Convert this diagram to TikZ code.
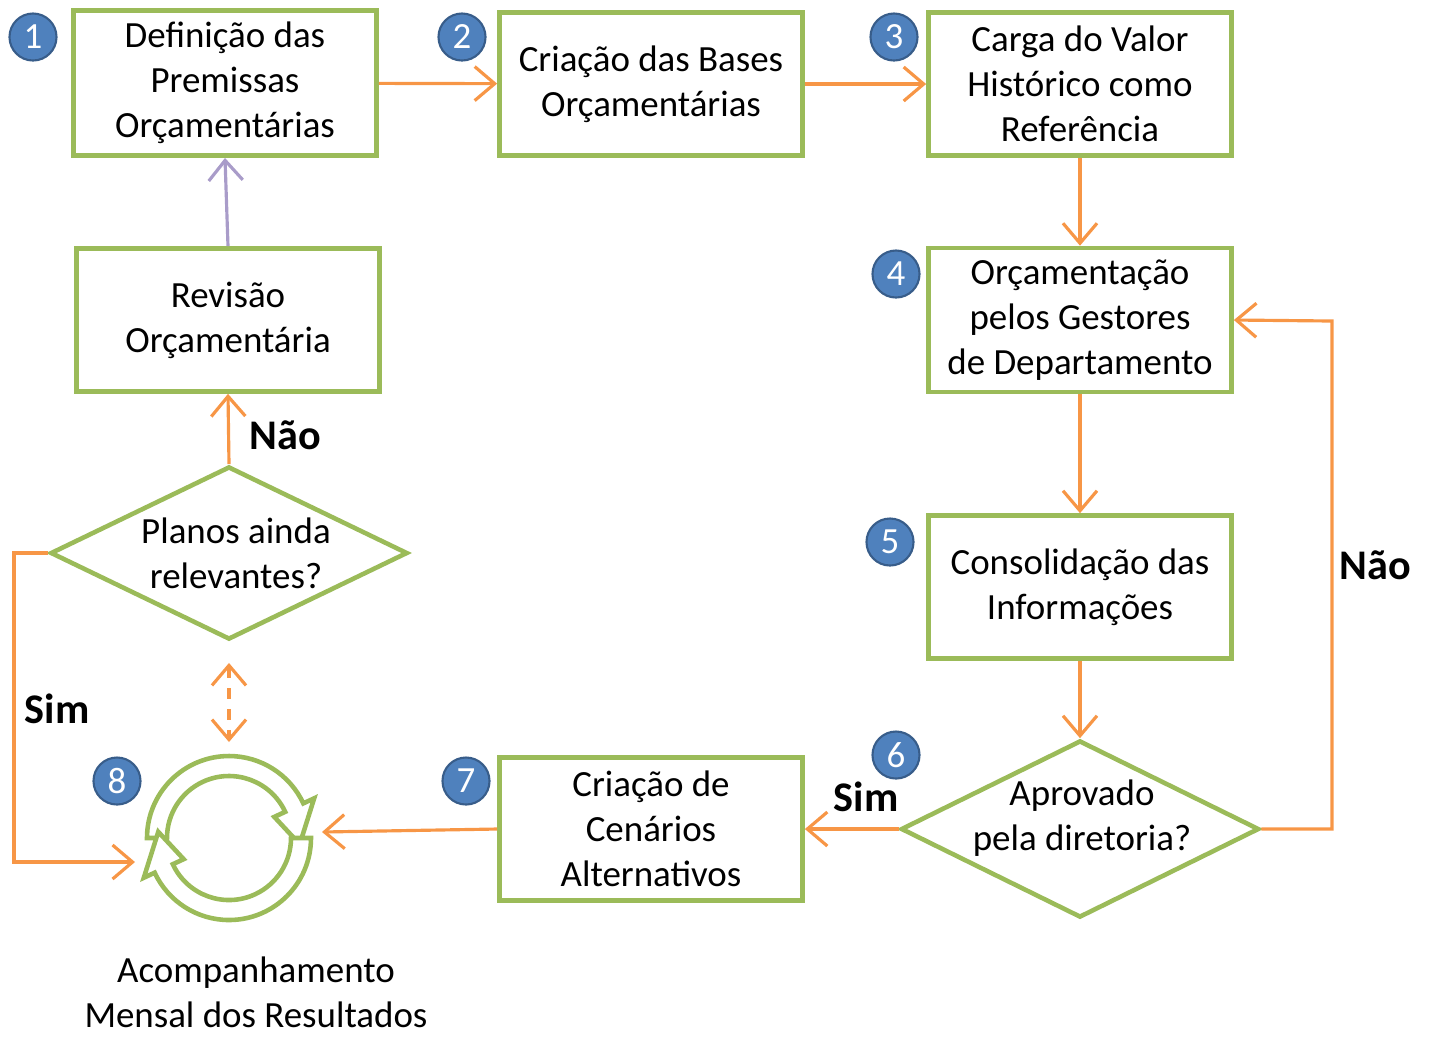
\documentclass[tikz,border=0pt]{standalone}
\usepackage{fontspec}
\setmainfont{Carlito}
\usetikzlibrary{arrows.meta,shapes.geometric}
\definecolor{boxgreen}{HTML}{9BBB59}
\definecolor{flow}{HTML}{F79646}
\definecolor{badge}{HTML}{4F81BD}
\definecolor{badgeline}{HTML}{385D8A}
\definecolor{back}{HTML}{A99CC9}

\tikzset{
    stage/.style={draw=boxgreen, line width=1.3pt, fill=white, minimum width=3.03cm, minimum height=1.43cm,
        align=center, font=\fontsize{10.5}{12.8}\selectfont},
    choice/.style={draw=boxgreen, line width=1.3pt, diamond, inner sep=0pt},
    num/.style={circle, fill=badge, draw=badgeline, line width=0.6pt, minimum size=0.47cm, inner sep=0pt,
        text=white, font=\fontsize{10.5}{12}\selectfont},
    flowarrow/.style={draw=flow, line width=0.9pt, -{Straight Barb[length=2mm,width=3.4mm]}},
    answer/.style={font=\fontsize{12}{14}\selectfont\bfseries},
    ring/.style={draw=boxgreen, line width=1.3pt, fill=white}
}

\begin{document}
\begin{tikzpicture}[x=0.01cm, y=-0.01cm]
    \useasboundingbox (0,0) rectangle (1436,1059);

    \node[stage] at (225, 83) (s1) {Definição das\\Premissas\\Orçamentárias};
    \node[stage] at (651, 84) (s2) {Criação das Bases\\Orçamentárias};
    \node[stage] at (1080, 84) (s3) {Carga do Valor\\Histórico como\\Referência};
    \node[stage] at (1080, 320) (s4) {Orçamentação\\pelos Gestores\\de Departamento};
    \node[stage] at (1080, 587) (s5) {Consolidação das\\Informações};
    \node[stage] at (651, 829) (s7) {Criação de\\Cenários\\Alternativos};
    \node[stage] at (228, 320) (rev) {Revisão\\Orçamentária};

    \node[choice, minimum width=3.58cm, minimum height=1.77cm] at (1080, 829) (d6) {};
    \node[align=center, font=\fontsize{10.5}{12.8}\selectfont] at (1082, 818) (d6t) {Aprovado\\pela diretoria?};
    \node[choice, minimum width=3.57cm, minimum height=1.73cm] at (229, 553) (dp) {};
    \node[align=center, font=\fontsize{10.5}{12.8}\selectfont] at (236, 553) (dpt) {Planos ainda\\relevantes?};

    % cycle icon
    \begin{scope}[shift={(229,838)}]
        \path[ring] (180:82) arc (180:335:82) -- (335:94) -- (5:71) -- (335:50) -- (335:62)
            arc (335:180:62) -- cycle;
        \path[ring] (0:82) arc (0:155:82) -- (155:94) -- (185:71) -- (155:50) -- (155:62)
            arc (155:0:62) -- cycle;
    \end{scope}
    \coordinate (cyctop) at (229,742);
    \coordinate (cycright) at (322,832);
    \coordinate (cycleft) at (135,862);
    \node[align=center, font=\fontsize{10.5}{12.8}\selectfont] at (256, 992) (mon) {Acompanhamento\\Mensal dos Resultados};

    \node[num] at (33, 37) (n1) {1};
    \node[num] at (462, 37) (n2) {2};
    \node[num] at (894, 37) (n3) {3};
    \node[num] at (896, 274) (n4) {4};
    \node[num] at (890, 542) (n5) {5};
    \node[num] at (896, 755) (n6) {6};
    \node[num] at (466, 781) (n7) {7};
    \node[num] at (117, 781) (n8) {8};

    \draw[flowarrow] (s1) -- (s2);
    \draw[flowarrow] (s2) -- (s3);
    \draw[flowarrow] (s3) -- (s4);
    \draw[flowarrow] (s4) -- (s5);
    \draw[flowarrow] (s5) -- (d6.north);
    \draw[flowarrow] (d6.west) -- (s7.east);
    \draw[flowarrow] (s7.west) -- (cycright);
    \coordinate (loopright) at (1332, 321);
    \draw[flowarrow] (d6.east) -| (loopright) -- (s4.east);
    \draw[flowarrow] (dp.north) -- (rev.south);
    \coordinate (loopleft) at (14, 553);
    \draw[flowarrow] (dp.west) -- (loopleft) |- (cycleft);
    \draw[flowarrow, dashed, {Straight Barb[length=2mm,width=3.4mm]}-{Straight Barb[length=2mm,width=3.4mm]}]
        ([yshift=-6]dp.south) -- (cyctop);
    \draw[draw=back, line width=0.9pt, -{Straight Barb[length=2mm,width=3.4mm]}] (rev.north) -- (s1.south);

    \node[answer] at (866, 797) (l1) {Sim};
    \node[answer] at (1375, 565) (l2) {Não};
    \node[answer] at (285, 435) (l3) {Não};
    \node[answer] at (57, 709) (l4) {Sim};
\end{tikzpicture}
\end{document}
